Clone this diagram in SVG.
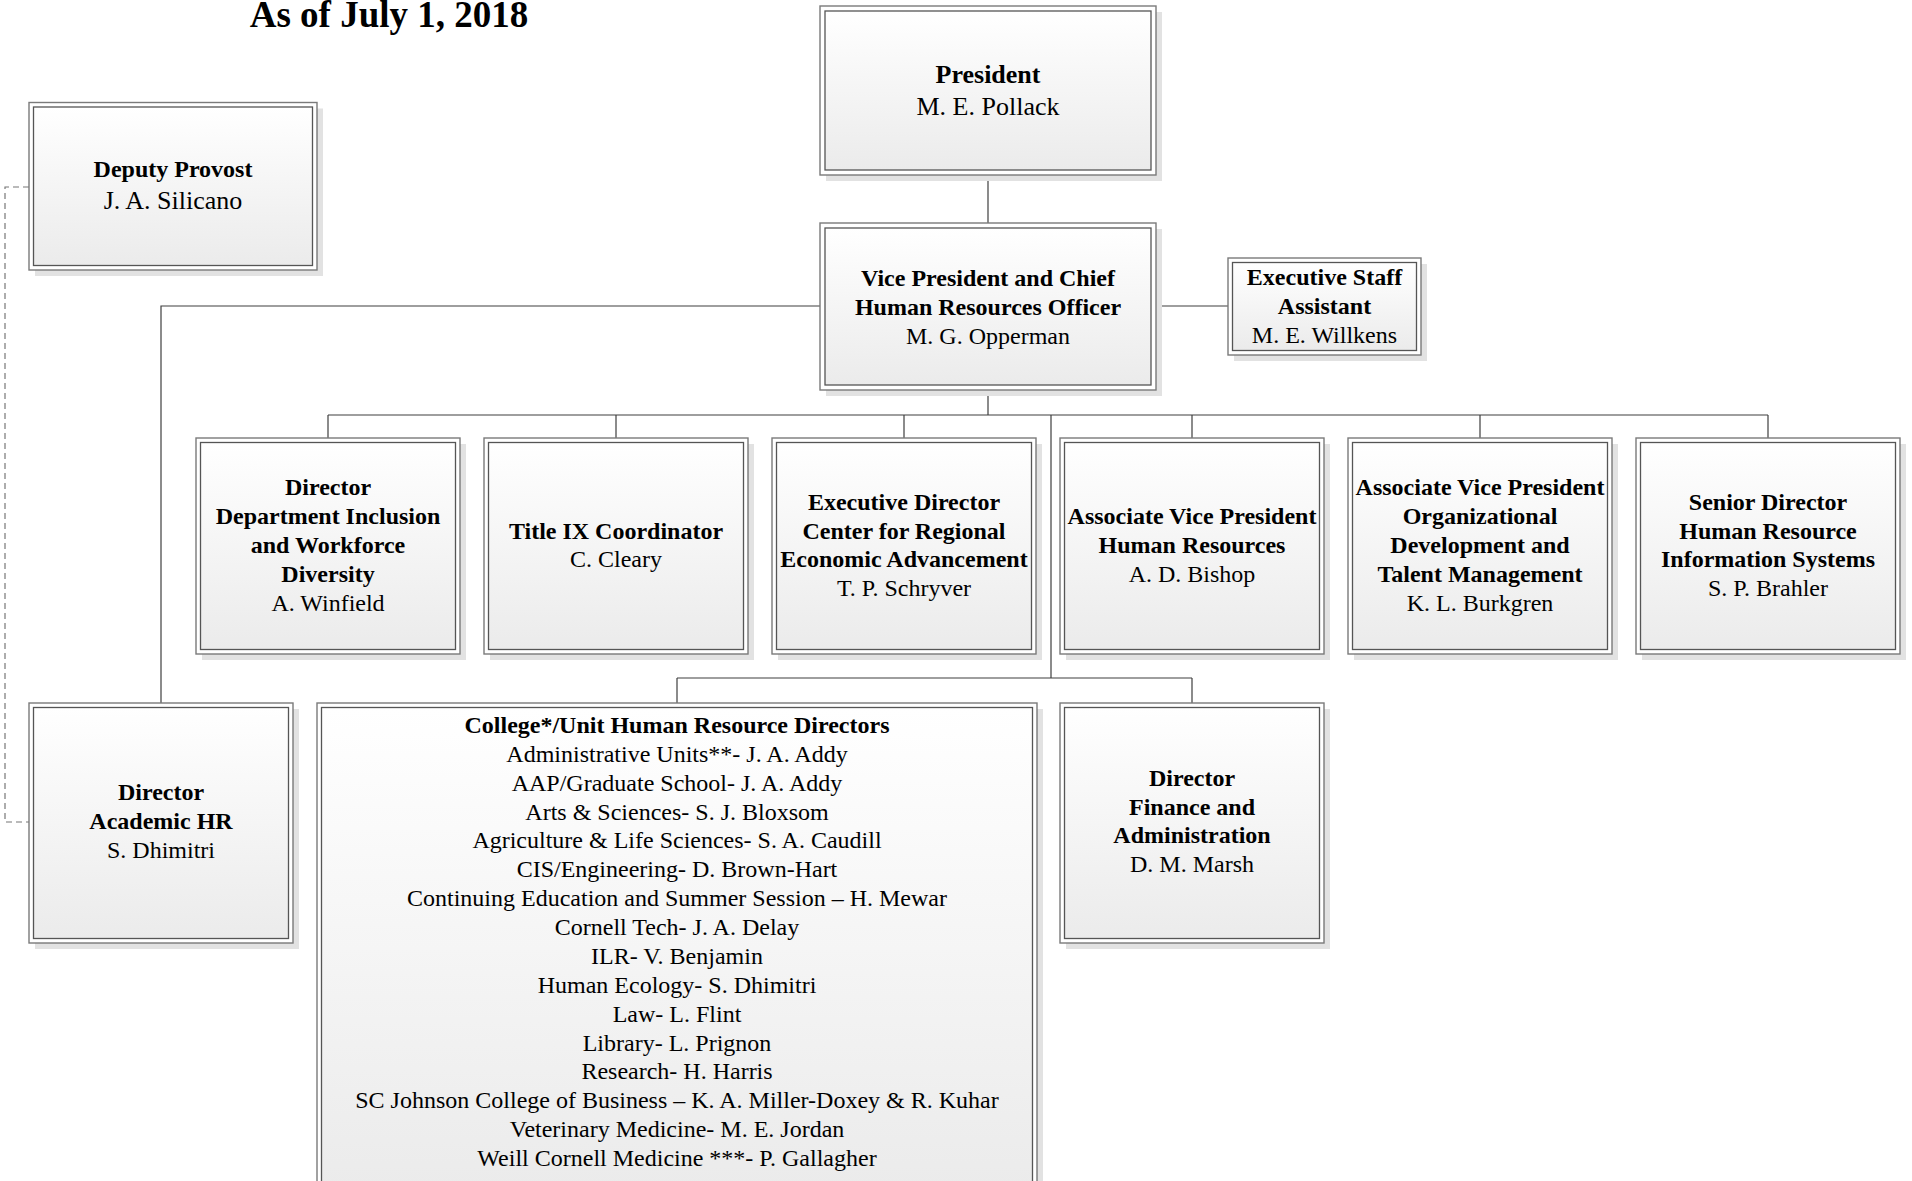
<svg xmlns="http://www.w3.org/2000/svg" width="1912" height="1181" viewBox="0 0 1912 1181">
<defs>
<linearGradient id="g" x1="0" y1="0" x2="0" y2="1">
<stop offset="0" stop-color="#ffffff"/>
<stop offset="1" stop-color="#ebebeb"/>
</linearGradient>
<style>
.sh{fill:#e2e2e2;stroke:none}
.out{fill:#ffffff;stroke:#7a7a7a;stroke-width:1.4}
.in{fill:url(#g);stroke:#555555;stroke-width:1.3}
.c{fill:none;stroke:#3f3f3f;stroke-width:1.2}
.d{fill:none;stroke:#777777;stroke-width:1.2;stroke-dasharray:6 4}
text{font-family:"Liberation Serif","Times New Roman",serif;fill:#000;text-anchor:middle}
.t24{font-size:24px}
.t26{font-size:26px}
.b{font-weight:bold}
</style>
</defs>
<rect width="1912" height="1181" fill="#ffffff"/>
<text x="389" y="27" style="font-size:37px;font-weight:bold">As of July 1, 2018</text>

<g id="connectors">
<path class="c" d="M988,175 V223"/>
<path class="c" d="M1156,306 H1228"/>
<path class="c" d="M820,306 H161 V703"/>
<path class="c" d="M988,390 V415 M328,415 H1768"/>
<path class="c" d="M328,415 V438 M616,415 V438 M904,415 V438 M1192,415 V438 M1480,415 V438 M1768,415 V438"/>
<path class="c" d="M1051,415 V678 M677,678 H1192 M677,678 V703 M1192,678 V703"/>
<path class="d" d="M29,187 H5 V822 H29"/>
</g>

<g id="president">
<rect class="sh" x="826" y="12" width="336" height="169"/>
<rect class="out" x="820" y="6" width="336" height="169"/>
<rect class="in" x="825" y="11" width="326" height="159"/>
<text class="t26" x="988" y="82.7"><tspan class="b">President</tspan><tspan x="988" y="114.7">M. E. Pollack</tspan></text>
</g>

<g id="deputy-provost">
<rect class="sh" x="35" y="108.5" width="288" height="167.5"/>
<rect class="out" x="29" y="102.5" width="288" height="167.5"/>
<rect class="in" x="33.5" y="107" width="279" height="158.5"/>
<text x="173" y="177.3"><tspan class="b t24">Deputy Provost</tspan><tspan class="t26" x="173" y="209.3">J. A. Silicano</tspan></text>
</g>

<g id="vp">
<rect class="sh" x="826" y="229" width="336" height="167"/>
<rect class="out" x="820" y="223" width="336" height="167"/>
<rect class="in" x="825" y="228" width="326" height="157"/>
<text class="t24" x="988" y="286.2"><tspan class="b">Vice President and Chief</tspan><tspan class="b" x="988" y="315">Human Resources Officer</tspan><tspan x="988" y="343.8">M. G. Opperman</tspan></text>
</g>

<g id="exec-staff-assistant">
<rect class="sh" x="1234" y="264" width="193" height="97"/>
<rect class="out" x="1228" y="258" width="193" height="97"/>
<rect class="in" x="1232.5" y="262.5" width="184" height="88"/>
<text class="t24" x="1324.5" y="285.2"><tspan class="b">Executive Staff</tspan><tspan class="b" x="1324.5" y="314">Assistant</tspan><tspan x="1324.5" y="342.8">M. E. Willkens</tspan></text>
</g>

<g id="dir-inclusion">
<rect class="sh" x="202" y="444" width="264" height="216"/>
<rect class="out" x="196" y="438" width="264" height="216"/>
<rect class="in" x="200.5" y="442.5" width="255" height="207"/>
<text class="t24" x="328" y="495.4"><tspan class="b">Director</tspan><tspan class="b" x="328" y="524.2">Department Inclusion</tspan><tspan class="b" x="328" y="553">and Workforce</tspan><tspan class="b" x="328" y="581.8">Diversity</tspan><tspan x="328" y="610.6">A. Winfield</tspan></text>
</g>

<g id="title-ix">
<rect class="sh" x="490" y="444" width="264" height="216"/>
<rect class="out" x="484" y="438" width="264" height="216"/>
<rect class="in" x="488.5" y="442.5" width="255" height="207"/>
<text class="t24" x="616" y="538.6"><tspan class="b">Title IX Coordinator</tspan><tspan x="616" y="567.4">C. Cleary</tspan></text>
</g>

<g id="exec-dir-crea">
<rect class="sh" x="778" y="444" width="264" height="216"/>
<rect class="out" x="772" y="438" width="264" height="216"/>
<rect class="in" x="776.5" y="442.5" width="255" height="207"/>
<text class="t24" x="904" y="509.8"><tspan class="b">Executive Director</tspan><tspan class="b" x="904" y="538.6">Center for Regional</tspan><tspan class="b" x="904" y="567.4">Economic Advancement</tspan><tspan x="904" y="596.2">T. P. Schryver</tspan></text>
</g>

<g id="avp-hr">
<rect class="sh" x="1066" y="444" width="264" height="216"/>
<rect class="out" x="1060" y="438" width="264" height="216"/>
<rect class="in" x="1064.5" y="442.5" width="255" height="207"/>
<text class="t24" x="1192" y="524.2"><tspan class="b">Associate Vice President</tspan><tspan class="b" x="1192" y="553">Human Resources</tspan><tspan x="1192" y="581.8">A. D. Bishop</tspan></text>
</g>

<g id="avp-odtm">
<rect class="sh" x="1354" y="444" width="264" height="216"/>
<rect class="out" x="1348" y="438" width="264" height="216"/>
<rect class="in" x="1352.5" y="442.5" width="255" height="207"/>
<text class="t24" x="1480" y="495.4"><tspan class="b">Associate Vice President</tspan><tspan class="b" x="1480" y="524.2">Organizational</tspan><tspan class="b" x="1480" y="553">Development and</tspan><tspan class="b" x="1480" y="581.8">Talent Management</tspan><tspan x="1480" y="610.6">K. L. Burkgren</tspan></text>
</g>

<g id="sr-dir-hris">
<rect class="sh" x="1642" y="444" width="264" height="216"/>
<rect class="out" x="1636" y="438" width="264" height="216"/>
<rect class="in" x="1640.5" y="442.5" width="255" height="207"/>
<text class="t24" x="1768" y="509.8"><tspan class="b">Senior Director</tspan><tspan class="b" x="1768" y="538.6">Human Resource</tspan><tspan class="b" x="1768" y="567.4">Information Systems</tspan><tspan x="1768" y="596.2">S. P. Brahler</tspan></text>
</g>

<g id="dir-academic-hr">
<rect class="sh" x="35" y="709" width="264" height="240"/>
<rect class="out" x="29" y="703" width="264" height="240"/>
<rect class="in" x="33.5" y="707.5" width="255" height="231"/>
<text class="t24" x="161" y="800.2"><tspan class="b">Director</tspan><tspan class="b" x="161" y="829">Academic HR</tspan><tspan x="161" y="857.8">S. Dhimitri</tspan></text>
</g>

<g id="college-unit-hr">
<rect class="sh" x="323" y="709" width="720" height="490"/>
<rect class="out" x="317" y="703" width="720" height="490"/>
<rect class="in" x="321.5" y="707.5" width="711" height="481"/>
<text class="t24" x="677" y="733"><tspan class="b">College*/Unit Human Resource Directors</tspan><tspan x="677" dy="28.87">Administrative Units**- J. A. Addy</tspan><tspan x="677" dy="28.87">AAP/Graduate School- J. A. Addy</tspan><tspan x="677" dy="28.87">Arts &amp; Sciences- S. J. Bloxsom</tspan><tspan x="677" dy="28.87">Agriculture &amp; Life Sciences- S. A. Caudill</tspan><tspan x="677" dy="28.87">CIS/Engineering- D. Brown-Hart</tspan><tspan x="677" dy="28.87">Continuing Education and Summer Session – H. Mewar</tspan><tspan x="677" dy="28.87">Cornell Tech- J. A. Delay</tspan><tspan x="677" dy="28.87">ILR- V. Benjamin</tspan><tspan x="677" dy="28.87">Human Ecology- S. Dhimitri</tspan><tspan x="677" dy="28.87">Law- L. Flint</tspan><tspan x="677" dy="28.87">Library- L. Prignon</tspan><tspan x="677" dy="28.87">Research- H. Harris</tspan><tspan x="677" dy="28.87">SC Johnson College of Business – K. A. Miller-Doxey &amp; R. Kuhar</tspan><tspan x="677" dy="28.87">Veterinary Medicine- M. E. Jordan</tspan><tspan x="677" dy="28.87">Weill Cornell Medicine ***- P. Gallagher</tspan></text>
</g>

<g id="dir-finance-admin">
<rect class="sh" x="1066" y="709" width="264" height="240"/>
<rect class="out" x="1060" y="703" width="264" height="240"/>
<rect class="in" x="1064.5" y="707.5" width="255" height="231"/>
<text class="t24" x="1192" y="785.8"><tspan class="b">Director</tspan><tspan class="b" x="1192" y="814.6">Finance and</tspan><tspan class="b" x="1192" y="843.4">Administration</tspan><tspan x="1192" y="872.2">D. M. Marsh</tspan></text>
</g>
</svg>
